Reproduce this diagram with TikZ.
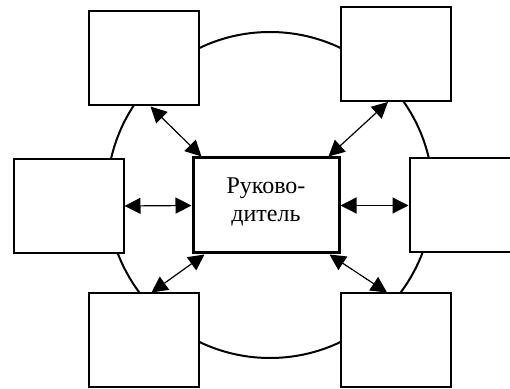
\documentclass[tikz,border=0pt]{standalone}
\usepackage{fontspec}
\setmainfont{Liberation Serif}
\usetikzlibrary{arrows.meta}
\begin{document}
\begin{tikzpicture}[x=0.5pt, y=-0.5pt, line join=miter]
\tikzstyle{every node}+=[inner sep=0pt]
\tikzstyle{sidebox}=[draw=black, fill=white, line width=1pt, minimum width=55pt, minimum height=47pt]
\tikzstyle{headbox}=[draw=black, fill=white, line width=1.5pt, minimum width=73pt, minimum height=47.5pt, align=center, font=\fontsize{12}{14}\selectfont]
\tikzstyle{link}=[black, line width=0.6pt, {Triangle[length=8pt,width=8pt]}-{Triangle[length=8pt,width=8pt]}]
\useasboundingbox (0,0) rectangle (510,389);
\draw [black, line width=1pt] (270,195) circle (163);
\node [sidebox] (tl) at (143.5,58.5) {};
\node [sidebox] (tr) at (396,54) {};
\node [sidebox] (l) at (68.5,206) {};
\node [sidebox] (r) at (464.5,205.5) {};
\node [sidebox] (bl) at (143.5,340.5) {};
\node [sidebox] (br) at (396,340.5) {};
\node [headbox] (head) at (266,205.5) {};
\node [font=\fontsize{12}{14}\selectfont, align=center] (title) at (266,202) {Руково-\\дитель};
\draw [link] ([shift={(7,0)}]tl.south) -- ([shift={(10,0)}]head.north west);
\draw [link] ([shift={(-8,0)}]tr.south) -- ([shift={(-12,0)}]head.north east);
\draw [link] (l.east) -- (head.west);
\draw [link] (r.west) -- (head.east);
\draw [link] ([shift={(8,0)}]bl.north) -- ([shift={(13,0)}]head.south west);
\draw [link] ([shift={(-9,0)}]br.north) -- ([shift={(-11,0)}]head.south east);
\end{tikzpicture}
\end{document}
